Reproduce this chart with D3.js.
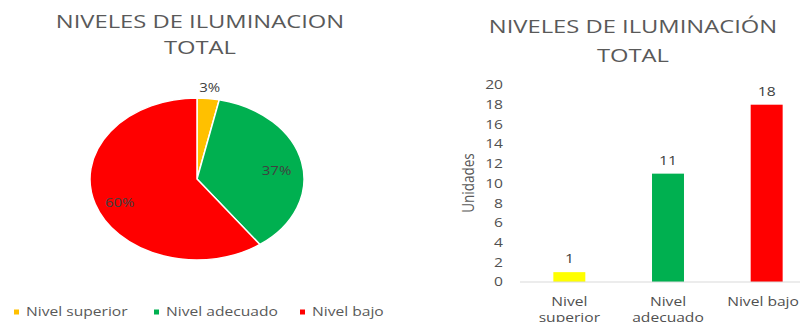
<!DOCTYPE html>
<html>
<head>
<meta charset="utf-8">
<script src="https://cdn.jsdelivr.net/npm/d3@7"></script>
<style>
  html, body { margin: 0; padding: 0; background: #fff; }
  svg { display: block; font-family: "Open Sans", "Noto Sans", sans-serif; }
</style>
</head>
<body>
<svg id="chart" width="800" height="322"></svg>
<script>
// Lighting level counts
const categories = ["Nivel superior", "Nivel adecuado", "Nivel bajo"];
const units = [1, 11, 18];
const pieColors = ["#FFC000", "#00B050", "#FF0000"];
const barColors = ["#FFFF00", "#00B050", "#FF0000"];
const barLabelLines = [["Nivel", "superior"], ["Nivel", "adecuado"], ["Nivel bajo"]];
const yTicks = [0, 2, 4, 6, 8, 10, 12, 14, 16, 18, 20];

const W = 800;
const svg = d3.select("#chart");
const textGray = "#595959";
const labelGray = "#404040";
// whole figure is drawn wider than tall
const SX = 1.25;
const at = (x, y) => `translate(${x},${y}) scale(${SX},1)`;

// ---------- Pie chart (left) ----------
const leftTitle = svg.append("g").attr("fill", textGray).attr("text-anchor", "middle")
  .style("font-size", "19px");
leftTitle.append("text").attr("transform", at(200, 28)).text("NIVELES DE ILUMINACION");
leftTitle.append("text").attr("transform", at(200, 54)).text("TOTAL");

const total = d3.sum(units);
const pieData = d3.pie().sort(null).value(d => d)(units);
const r = 81;
const pieSX = 107 / 81;
const cx = 197, cy = 179;
const arc = d3.arc().innerRadius(0).outerRadius(r);

const pieG = svg.append("g").attr("transform", `translate(${cx},${cy}) scale(${pieSX},1)`);
pieG.selectAll("path").data(pieData).join("path")
  .attr("d", arc)
  .attr("fill", (d, i) => pieColors[i])
  .attr("stroke", "#fff")
  .attr("stroke-width", 1.5)
  .attr("vector-effect", "non-scaling-stroke");

// percentage labels: the small slice outside, the others inside
const labelArcIn = d3.arc().innerRadius(r * 0.76).outerRadius(r * 0.76);
const labelArcOut = d3.arc().innerRadius(r * 1.13).outerRadius(r * 1.13);
svg.append("g").selectAll("text").data(pieData).join("text")
  .attr("transform", (d, i) => {
    const c = (i === 0 ? labelArcOut : labelArcIn).centroid(d);
    return at(cx + c[0] * pieSX, cy + c[1] + (i === 0 ? 0 : 5));
  })
  .attr("text-anchor", "middle")
  .attr("dy", "0.35em")
  .attr("fill", labelGray)
  .style("font-size", "12px")
  .text(d => Math.round(d.value / total * 100) + "%");

// legend
const legendX = [14, 154, 300];
const legend = svg.append("g").selectAll("g").data(categories).join("g")
  .attr("transform", (d, i) => `translate(${legendX[i]},312)`);
legend.append("rect").attr("x", 0).attr("y", -2.5).attr("width", 5).attr("height", 5)
  .attr("fill", (d, i) => pieColors[i]);
legend.append("text").attr("transform", at(12, 0)).attr("dy", "0.35em")
  .attr("fill", textGray).style("font-size", "12.5px").text(d => d);

// ---------- Bar chart (right) ----------
const rightTitle = svg.append("g").attr("fill", textGray).attr("text-anchor", "middle")
  .style("font-size", "19px");
rightTitle.append("text").attr("transform", at(633, 33)).text("NIVELES DE ILUMINACIÓN");
rightTitle.append("text").attr("transform", at(633, 62)).text("TOTAL");

const x = d3.scaleBand().domain(categories).range([520, 816])
  .paddingInner(0.676).paddingOuter(0.338);
const y = d3.scaleLinear().domain([0, 20]).range([282, 85]);

// y tick labels
svg.append("g").selectAll("text").data(yTicks).join("text")
  .attr("transform", d => at(503, y(d))).attr("dy", "0.35em")
  .attr("text-anchor", "end").attr("fill", "#505050")
  .style("font-size", "12.5px").style("font-weight", 500).text(d => d);

// bars
svg.append("g").selectAll("rect").data(units).join("rect")
  .attr("x", (d, i) => x(categories[i]))
  .attr("width", x.bandwidth())
  .attr("y", d => y(d))
  .attr("height", d => y(0) - y(d))
  .attr("fill", (d, i) => barColors[i]);

// baseline
svg.append("line").attr("x1", 520).attr("x2", 816)
  .attr("y1", y(0)).attr("y2", y(0))
  .attr("stroke", "#d9d9d9").attr("stroke-width", 1.2);

// value labels
svg.append("g").selectAll("text").data(units).join("text")
  .attr("transform", (d, i) => at(x(categories[i]) + x.bandwidth() / 2, y(d) - 9))
  .attr("text-anchor", "middle").attr("fill", labelGray)
  .style("font-size", "12.5px").style("font-weight", 500).text(d => d);

// category labels, kept inside the right edge
const cats = svg.append("g").selectAll("text").data(categories).join("text")
  .attr("text-anchor", "middle").attr("fill", "#505050")
  .style("font-size", "12.5px").style("font-weight", 500);
cats.selectAll("tspan").data((d, i) => barLabelLines[i]).join("tspan")
  .attr("x", 0)
  .attr("dy", (d, j) => j === 0 ? "0.35em" : "16px")
  .text(d => d);
cats.attr("transform", function (d) {
  const half = this.getBBox().width * SX / 2;
  const cxl = Math.min(x(d) + x.bandwidth() / 2, W - half - 1);
  return at(cxl, 302);
});

// y-axis title
svg.append("text")
  .attr("transform", `translate(468,183) scale(${SX},1) rotate(-90)`)
  .attr("text-anchor", "middle").attr("dy", "0.35em")
  .attr("fill", textGray).style("font-size", "13.5px")
  .text("Unidades");
</script>
</body>
</html>
